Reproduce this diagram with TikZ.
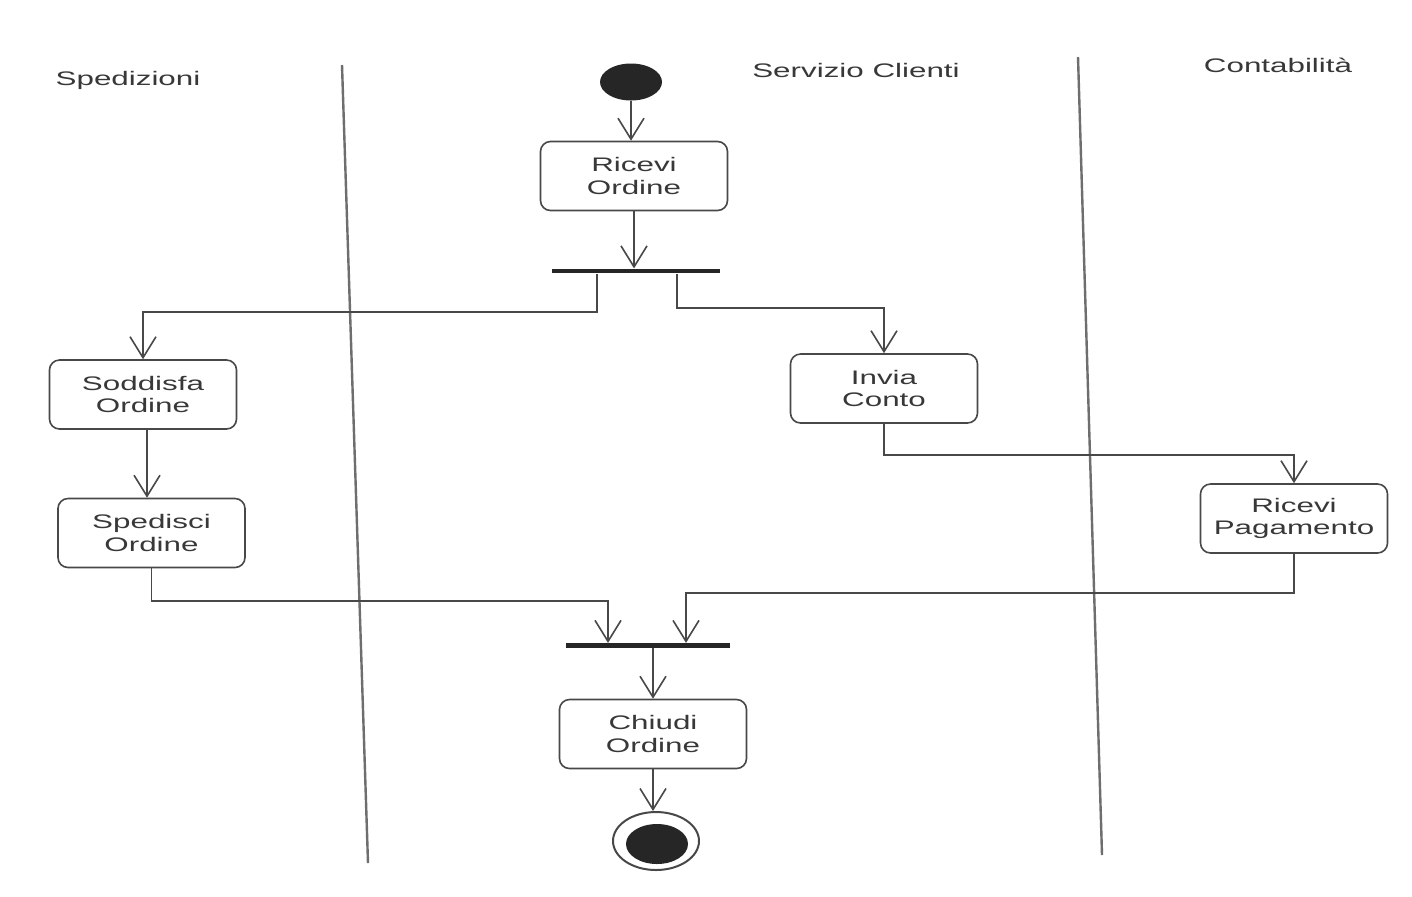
\documentclass[tikz,border=0pt]{standalone}
\usepackage{fontspec}
\setmainfont{Liberation Sans}[FakeStretch=1.6]
\usetikzlibrary{arrows.meta,shapes.geometric}
\definecolor{txt}{HTML}{383838}
\definecolor{ln}{HTML}{484848}
\definecolor{lane}{HTML}{6E6E6E}
\definecolor{dark}{HTML}{262626}
\tikzset{
  act/.style={draw=ln, line width=0.8pt, rounded corners=5pt, minimum width=93.5pt,
    minimum height=34.5pt, align=center, text=txt, font=\fontsize{9.8}{11.2}\selectfont, inner sep=0pt},
  bar/.style={fill=dark, draw=none, minimum height=2.2pt, inner sep=0pt},
  flow/.style={draw=ln, line width=0.8pt, -{Straight Barb[length=10.5pt,width=13pt,line width=0.8pt]}},
  lanetitle/.style={text=txt, font=\fontsize{9.8}{11.2}\selectfont, anchor=base, inner sep=0pt},
  lanesep/.style={draw=lane, line width=1.2pt},
}
\begin{document}
\begin{tikzpicture}[x=0.5pt,y=-0.5pt]
\useasboundingbox (0,0) rectangle (1412,896);
\fill[white] (0,0) rectangle (1412,896);

% lane separators
\coordinate (l1t) at (342,65);  \coordinate (l1b) at (368,863);
\coordinate (l2t) at (1078,57); \coordinate (l2b) at (1102,855);
\draw[lanesep] (l1t) -- (l1b);
\draw[lanesep] (l2t) -- (l2b);

% lane titles
\node[lanetitle] (t1) at (128,85) {Spedizioni};
\node[lanetitle] (t2) at (856,77) {Servizio Clienti};
\node[lanetitle] (t3) at (1278,72) {Contabilità};

% nodes
\node[ellipse, fill=dark, draw=none, minimum width=31pt, minimum height=18.5pt, inner sep=0pt] (start) at (631,82) {};
\node[act] (rec) at (634,176) {Ricevi\\Ordine};
\node[bar, minimum width=84pt] (bar1) at (636,271) {};
\node[act] (sod) at (143,394.5) {Soddisfa\\Ordine};
\node[act] (inv) at (884,388.5) {Invia\\Conto};
\node[act] (sped) at (151.5,533) {Spedisci\\Ordine};
\node[act] (pag) at (1294,518.5) {Ricevi\\Pagamento};
\node[bar, minimum width=82pt] (bar2) at (647.5,645.5) {};
\node[act] (chi) at (653,734) {Chiudi\\Ordine};
\node[ellipse, draw=ln, line width=1pt, minimum width=43pt, minimum height=29pt, inner sep=0pt] (endo) at (656,841) {};
\node[ellipse, fill=dark, draw=none, minimum width=31pt, minimum height=20pt, inner sep=0pt] (endi) at (657,844) {};

% bend coordinates
\coordinate (b1) at (597,312);
\coordinate (b2) at (677,308);
\coordinate (b3) at (1000,455);
\coordinate (b4) at (400,601);
\coordinate (b5) at (1000,593);
\coordinate (j1) at (608,0);
\coordinate (j2) at (686,0);
\coordinate (s1) at (147,0);

% connectors
\draw[flow] (start.south) -- (start.south |- rec.north);
\draw[flow] (rec.south) -- (rec.south |- bar1.north);
\draw[flow] (bar1.south -| b1) -- (b1) -| (sod.north);
\draw[flow] (bar1.south -| b2) -- (b2) -| (inv.north);
\draw[flow] (sod.south -| s1) -- (sped.north -| s1);
\draw[flow] (inv.south) |- (b3) -| (pag.north);
\draw[flow] (sped.south) |- (b4) -| (bar2.north -| j1);
\draw[flow] (pag.south) |- (b5) -| (bar2.north -| j2);
\draw[flow] (chi.north |- bar2.south) -- (chi.north);
\draw[flow] (chi.south) -- (chi.south |- endo.north);
\end{tikzpicture}
\end{document}
